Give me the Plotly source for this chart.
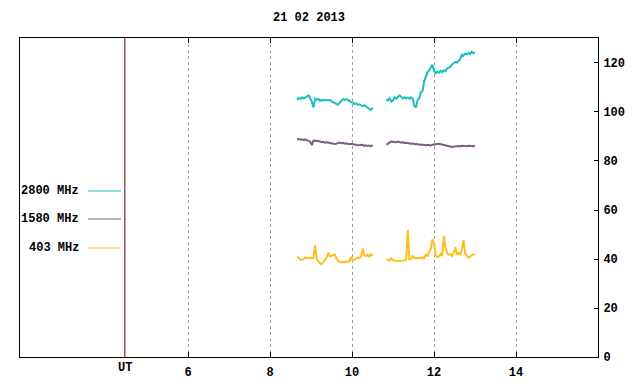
import numpy as np
import plotly.graph_objects as go

# ---- data (hours UT, solar flux units) ----
seg_a_start, seg_b_start, step = 8.66, 10.84, 0.04

f2800_a = [105.0, 105.8, 105.3, 106.0, 105.5, 105.9, 106.6, 106.8, 105.6, 104.2,
           101.8, 105.5, 105.0, 105.4, 104.5, 104.9, 104.6, 105.0, 104.8, 104.7,
           104.9, 104.3, 104.0, 103.6, 103.2, 103.0, 103.8, 104.6, 105.2, 104.9,
           105.3, 104.8, 104.6, 104.0, 103.9, 103.2, 103.6, 102.9, 103.1, 102.7,
           102.4, 102.8, 102.2, 101.9, 101.4, 100.8, 101.8]
f2800_b = [105.3, 104.7, 105.6, 104.2, 104.8, 105.9, 105.4, 106.3, 106.8, 106.2,
           105.5, 106.0, 105.6, 105.9, 105.4, 106.0, 105.5, 102.5, 101.8, 105.0,
           105.6, 108.0, 108.6, 112.5, 114.6, 116.2, 117.0, 118.2, 119.3, 117.0,
           115.8, 116.4, 116.0, 116.8, 116.3, 117.0, 116.6, 117.8, 118.0, 118.5,
           119.4, 119.8, 120.4, 120.2, 121.0, 121.6, 123.4, 123.0, 123.8, 123.5,
           124.1, 123.7, 124.6, 124.0, 124.3]

f1580_a = [88.8, 89.0, 88.7, 88.9, 88.6, 88.8, 88.5, 88.2, 87.9, 86.5,
           88.3, 88.4, 88.1, 88.2, 87.9, 87.7, 87.8, 87.5, 87.6, 87.4,
           87.2, 87.3, 87.0, 86.9, 87.1, 87.4, 87.5, 87.3, 87.4, 87.1,
           87.2, 86.9, 87.0, 86.8, 86.9, 86.6, 86.7, 86.4, 86.5, 86.3,
           86.6, 86.2, 86.4, 86.1, 86.3, 86.0, 86.5]
f1580_b = [86.6, 87.2, 87.6, 87.9, 87.8, 88.0, 87.7, 87.9, 87.6, 87.5,
           87.7, 87.3, 87.4, 87.2, 87.3, 87.0, 87.1, 86.9, 86.8, 86.9,
           86.6, 86.7, 86.5, 86.6, 86.4, 86.6, 86.5, 86.3, 86.6, 86.8,
           86.7, 86.9, 87.0, 86.8, 86.9, 86.7, 86.5, 86.2, 86.0, 85.9,
           85.7, 85.9, 85.8, 86.0, 86.1, 85.9, 86.2, 86.1, 86.3, 86.0,
           86.2, 86.1, 86.2, 86.0, 86.2]

f403_a = [41.0, 40.2, 39.8, 39.7, 39.9, 40.6, 40.3, 40.4, 40.5, 40.6,
          40.4, 45.7, 40.0, 39.0, 38.2, 37.9, 38.6, 39.6, 40.6, 42.6,
          41.0, 41.2, 41.4, 41.8, 40.2, 39.2, 38.8, 38.6, 38.9, 38.7,
          39.0, 38.8, 39.2, 40.9, 39.3, 39.8, 40.0, 40.6, 40.3, 41.0,
          44.3, 41.5, 41.2, 41.8, 41.0, 41.9, 41.2]
f403_b = [39.6, 39.8, 39.5, 40.2, 39.4, 39.3, 39.2, 39.3, 39.2, 39.3,
          39.2, 39.4, 40.0, 51.8, 39.8, 40.0, 41.2, 40.3, 40.4, 40.2,
          40.5, 40.3, 40.8, 40.0, 42.0, 41.0, 43.0, 44.0, 48.0, 46.5,
          41.5, 40.8, 41.0, 42.0, 41.3, 49.4, 44.5, 42.5, 41.8, 42.0,
          41.2, 42.5, 44.8, 41.8, 42.6, 41.5, 44.0, 47.8, 42.3, 41.2,
          40.5, 40.9, 41.6, 41.8, 42.1]

series = [("2800 MHz", f2800_a, f2800_b, "#19C0BE"),
          ("1580 MHz", f1580_a, f1580_b, "#7B5E82"),
          ("403 MHz", f403_a, f403_b, "#FFBE1E")]

x_ticks = [6, 8, 10, 12, 14]
y_ticks = [0, 20, 40, 60, 80, 100, 120]
ut_marker = 4.46
title_text = "21 02 2013"

FONT = dict(family="Liberation Mono, DejaVu Sans Mono, monospace", size=12, color="black")

# pixel layout helpers (page body has an 8px margin)
OFF = 8
W, H = 640 - OFF, 384 - OFF
L, R, T, B = 20, 598, 38, 357          # plot area in window pixels
def px(xp): return (xp - L) / (R - L)
def py(yp): return (B - yp) / (B - T)

fig = go.Figure()
for name, a, b, col in series:
    ta = [seg_a_start + step * i for i in range(len(a))]
    tb = [seg_b_start + step * i for i in range(len(b))]
    fig.add_trace(go.Scatter(x=ta + [None] + tb, y=a + [None] + b, mode="lines",
                             line=dict(color=col, width=2), name=name,
                             connectgaps=False, showlegend=False))

annotations = [dict(text="<b>%s</b>" % title_text, xref="paper", yref="paper",
                    x=0.5, y=py(18), xanchor="center", yanchor="middle",
                    showarrow=False, font=FONT),
               dict(text="<b>UT</b>", xref="x", yref="paper", x=ut_marker, y=py(368),
                    xanchor="center", yanchor="middle", showarrow=False, font=FONT)]
shapes = [dict(type="line", xref="x", yref="paper", x0=ut_marker, x1=ut_marker,
               y0=0, y1=1, line=dict(color="#5A0000", width=1))]
leg_y = [191, 219, 248]
for (name, a, b, col), yy in zip(series, leg_y):
    annotations.append(dict(text="<b>%s</b>" % name, xref="paper", yref="paper",
                            x=px(81), y=py(yy), xanchor="right", yanchor="middle",
                            showarrow=False, font=FONT))
    shapes.append(dict(type="line", xref="paper", yref="paper", x0=px(88), x1=px(121),
                       y0=py(yy), y1=py(yy), line=dict(color=col, width=1)))

fig.update_layout(
    width=W, height=H,
    margin=dict(l=L - OFF, r=640 - R, t=T - OFF, b=384 - B, autoexpand=False),
    paper_bgcolor="white", plot_bgcolor="white", font=FONT,
    annotations=annotations, shapes=shapes, showlegend=False,
    xaxis=dict(range=[1.902, 16.0], tickvals=x_ticks,
               ticktext=["<b>%d</b>" % v for v in x_ticks],
               ticks="inside", ticklen=5, tickcolor="black", showline=True,
               linecolor="black", linewidth=1, mirror="ticks",
               showgrid=True, gridcolor="#a0a0a0", griddash="dot", gridwidth=1,
               zeroline=False, ticklabelstandoff=4),
    yaxis=dict(range=[0, 130.2], side="right", tickvals=y_ticks,
               ticktext=["<b>%d</b>" % v for v in y_ticks],
               ticks="inside", ticklen=4, tickcolor="black", showline=True,
               linecolor="black", linewidth=1, mirror=True,
               showgrid=False, zeroline=False, ticklabelstandoff=2),
)
fig.write_html("out.html")
